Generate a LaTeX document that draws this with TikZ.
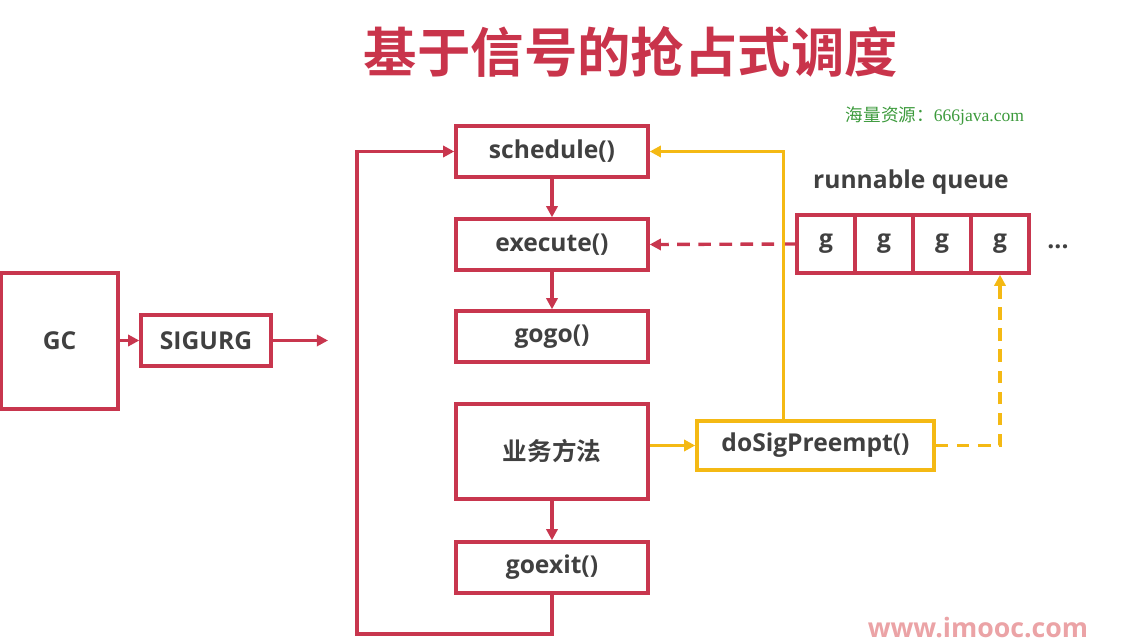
\documentclass[tikz,border=0pt]{standalone}
\usepackage{fontspec}
\setmainfont{Open Sans}
\newfontfamily\cjk{Noto Sans CJK SC}[BoldFont={Noto Sans CJK SC Bold}]
\newfontfamily\wmserif{Liberation Serif}
\usepackage{tikz}
\usetikzlibrary{arrows.meta}
\definecolor{boxred}{HTML}{C8364E}
\definecolor{titlered}{HTML}{C9344B}
\definecolor{preyellow}{HTML}{F4B914}
\definecolor{txtgray}{HTML}{404040}
\definecolor{wmgreen}{HTML}{3C9A3C}
\definecolor{wmpink}{HTML}{EBA3A6}

\begin{document}
\begin{tikzpicture}[x=0.025cm,y=-0.025cm,
  lbl/.style={text=txtgray,font=\bfseries\fontsize{17.5}{17.5}\selectfont},
  box/.style={lbl,draw=boxred,line width=2.4pt,fill=white,inner sep=0pt,minimum width=4.8cm,minimum height=1.275cm},
  ybox/.style={box,draw=preyellow,minimum width=5.925cm,minimum height=1.225cm},
  cell/.style={box,minimum width=1.45cm,minimum height=1.45cm},
  tip/.style={-{Triangle[length=8pt,width=8pt]}},
  link/.style={tip,draw=boxred,line width=2.4pt},
  dlink/.style={link,dash pattern=on 9pt off 6pt},
  ylink/.style={link,draw=preyellow},
  ydlink/.style={ylink,dash pattern=on 9pt off 6pt}]
\useasboundingbox (0,0) rectangle (1121,644);

% title and watermarks
\node[text=titlered,font=\cjk\bfseries\fontsize{38}{38}\selectfont] (title) at (631,52) {基于信号的抢占式调度};
\node[text=wmgreen,font=\fontsize{12.5}{12.5}\selectfont] (wm) at (935,116) {\cjk 海量资源：\wmserif 666java.com};
\node[text=wmpink,font=\bfseries\fontsize{19}{19}\selectfont] (site) at (978,628) {www.imooc.com};

% main column
\node[box] (sched) at (552,151.5) {schedule()};
\node[box] (exec) at (552,244.5) {execute()};
\node[box] (gogo) at (552,336.5) {gogo()};
\node[box,minimum height=2.375cm] (biz) at (552,451.5) {\cjk\bfseries 业务方法};
\node[box] (exit) at (552,567.5) {goexit()};

% signal source
\node[box,minimum width=2.925cm,minimum height=3.4cm] (gc) at (59.5,341) {GC};
\node[box,minimum width=3.25cm] (sig) at (206,340.5) {SIGURG};
\node[ybox] (pre) at (815.5,445.5) {doSigPreempt()};

% runnable queue
\node[lbl] (runq) at (911,182) {runnable queue};
\foreach \i in {1,...,4} {
   \node[cell] (g\i) at (768+58*\i,244) {g};
}
\node[lbl] (dots) at (1058,247) {...};

\coordinate (sigend) at (328,340.5);
\coordinate (loopcorner) at (357,634);

\draw[link] (gc.east |- sig.west) -- (sig.west);
\draw[link] (sig) -- (sigend);
\draw[link] (sched) -- (exec);
\draw[link] (exec) -- (gogo);
\draw[link] (biz) -- (exit);
\draw[link] (exit.south) |- (loopcorner) |- (sched.west);
\draw[dlink] (g1.west) -- (exec.east);
\draw[ylink] (biz.east |- pre.west) -- (pre.west);
\draw[ylink] ([xshift=-0.8cm]pre.north) |- (sched.east);
\draw[ydlink] (pre.east) -| (g4.south);
\end{tikzpicture}
\end{document}
